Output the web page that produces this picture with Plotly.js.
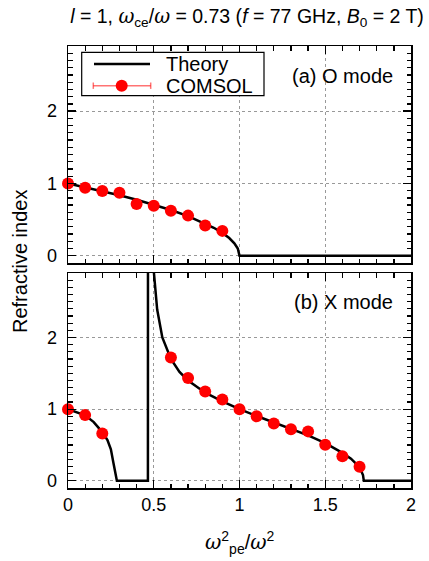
<!DOCTYPE html>
<html>
<head>
<meta charset="utf-8">
<script src="https://cdn.plot.ly/plotly-3.0.1.min.js"></script>
<style>html,body{margin:0;padding:0;background:#fff;}</style>
</head>
<body>
<div id="chart" style="width:429px;height:561px;"></div>
<script>
// ---- Data ----
// (a) O mode
const oTheoryX = [0, 0.1, 0.2, 0.3, 0.4, 0.5, 0.6, 0.7, 0.8, 0.85, 0.9, 0.94, 0.97, 0.99, 1.0, 2.0];
const oTheoryN = [1.0, 0.949, 0.894, 0.837, 0.775, 0.707, 0.632, 0.548, 0.447, 0.387, 0.316, 0.245, 0.173, 0.10, 0.0, 0.0];
const oComsolX = [0, 0.1, 0.2, 0.3, 0.4, 0.5, 0.6, 0.7, 0.8, 0.9];
const oComsolN = [1.0, 0.94, 0.894, 0.87, 0.715, 0.69, 0.623, 0.555, 0.42, 0.344];

// (b) X mode
const xTheoryX = [0, 0.05, 0.1, 0.15, 0.2, 0.23, 0.25, 0.265, 0.275, 0.28, 0.285, 0.466, 0.467,
                  0.48, 0.5, 0.52, 0.55, 0.6, 0.65, 0.7, 0.8, 0.9, 1.0, 1.1, 1.2, 1.3, 1.4, 1.5, 1.6, 1.65, 1.7, 1.72, 1.725, 2.0];
const xTheoryN = [1.0, 0.96, 0.915, 0.82, 0.68, 0.57, 0.44, 0.25, 0.10, 0.02, 0.0, 0.0, 10.0,
                  4.2, 2.93, 2.39, 2.0, 1.70, 1.52, 1.40, 1.23, 1.11, 1.0, 0.905, 0.815, 0.73, 0.635, 0.525, 0.39, 0.31, 0.19, 0.08, 0.0, 0.0];
const xComsolX = [0, 0.1, 0.2, 0.6, 0.7, 0.8, 0.9, 1.0, 1.1, 1.2, 1.3, 1.4, 1.5, 1.6, 1.7];
const xComsolN = [1.0, 0.917, 0.66, 1.72, 1.436, 1.245, 1.135, 1.0, 0.90, 0.80, 0.72, 0.69, 0.505, 0.343, 0.195];

const xTickVals = [0, 0.5, 1, 1.5, 2];
const xTickText = ['0', '0.5', '1', '1.5', '2'];
const yTickVals = [0, 1, 2];
const yTickText = ['0', '1', '2'];

const titleText = '<i>l</i> = 1, <span style="font-family:\'DejaVu Serif\'"><i>ω</i></span><sub>ce</sub>/<span style="font-family:\'DejaVu Serif\'"><i>ω</i></span> = 0.73 (<i>f</i> = 77 GHz, <i>B</i><sub>0</sub> = 2 T)';
const xTitleText = '<span style="font-family:\'DejaVu Serif\'"><i>ω</i></span><sup>2</sup><sub>pe</sub>/<span style="font-family:\'DejaVu Serif\'"><i>ω</i></span><sup>2</sup>';
const yTitleText = 'Refractive index';
const legendNames = ['Theory', 'COMSOL'];
const panelLabels = ['(a) O mode', '(b) X mode'];

// ---- Layout geometry ----
const W = 429, H = 561;
const M = {l: 68, r: 18, t: 46, b: 73};
const PW = W - M.l - M.r, PH = H - M.t - M.b;
const px = v => (v - M.l) / PW;          // pixel x -> paper x
const py = v => (H - M.b - v) / PH;      // pixel y -> paper y

const FONT = 'Liberation Sans, Arial, Helvetica, sans-serif';
const RED = '#ff0000';

const theoryLine = {color: '#000', width: 2.5};
const comsolMarker = {color: RED, size: 12, line: {width: 0}};

const traces = [
  {x: oTheoryX, y: oTheoryN, xaxis: 'x', yaxis: 'y', mode: 'lines', line: theoryLine, showlegend: false},
  {x: oComsolX, y: oComsolN, xaxis: 'x', yaxis: 'y', mode: 'markers', marker: comsolMarker, showlegend: false, cliponaxis: false},
  {x: xTheoryX, y: xTheoryN, xaxis: 'x2', yaxis: 'y2', mode: 'lines', line: theoryLine, showlegend: false},
  {x: xComsolX, y: xComsolN, xaxis: 'x2', yaxis: 'y2', mode: 'markers', marker: comsolMarker, showlegend: false, cliponaxis: false},
  // empty carriers so that the mirrored tick axes (top/right) get drawn
  {x: [], y: [], xaxis: 'x3', yaxis: 'y3', mode: 'markers', showlegend: false, hoverinfo: 'skip'},
  {x: [], y: [], xaxis: 'x4', yaxis: 'y4', mode: 'markers', showlegend: false, hoverinfo: 'skip'}
];

const tickBase = {ticks: 'inside', ticklen: 8, tickwidth: 1.3, tickcolor: '#000'};
const xMinor = {dtick: 0.1, tick0: 0, ticks: 'inside', ticklen: 4.5, tickwidth: 1.3, tickcolor: '#000', showgrid: false};
const yMinor = {dtick: 0.1, tick0: 0, ticks: 'inside', ticklen: 4.5, tickwidth: 1.3, tickcolor: '#000', showgrid: false};

function xAxis(anchor, showLabels) {
  return Object.assign({
    anchor: anchor, domain: [0, 1], range: [0, 2],
    tickmode: 'array', tickvals: xTickVals, ticktext: xTickText,
    showticklabels: showLabels,
    minor: xMinor,
    showgrid: true, gridcolor: '#999', griddash: 'dot', gridwidth: 1,
    showline: true, linecolor: '#000', linewidth: 1.5, mirror: true,
    zeroline: false,
    tickfont: {family: FONT, size: 18, color: '#000'}
  }, tickBase);
}
function yAxis(anchor, domain) {
  return Object.assign({
    anchor: anchor, domain: domain, range: [-0.1, 2.9],
    tickmode: 'array', tickvals: yTickVals, ticktext: yTickText,
    minor: yMinor,
    showgrid: true, gridcolor: '#999', griddash: 'dot', gridwidth: 1,
    showline: true, linecolor: '#000', linewidth: 1.5, mirror: true,
    zeroline: false, ticklabelstandoff: 6,
    tickfont: {family: FONT, size: 18, color: '#000'}
  }, tickBase);
}
// mirrored tick axes (top / right), no labels, no grid
function xMirror(overlay, anchor) {
  return Object.assign({
    overlaying: overlay, anchor: anchor, side: 'top', range: [0, 2],
    tickmode: 'array', tickvals: xTickVals, showticklabels: false,
    minor: xMinor, showgrid: false, showline: false, zeroline: false
  }, tickBase);
}
function yMirror(overlay, anchor) {
  return Object.assign({
    overlaying: overlay, anchor: anchor, side: 'right', range: [-0.1, 2.9],
    tickmode: 'array', tickvals: yTickVals, showticklabels: false,
    minor: yMinor, showgrid: false, showline: false, zeroline: false
  }, tickBase);
}

// Hand-drawn legend (box, line sample, marker with error bar)
const legY1 = 64, legY2 = 85.7;
const shapes = [
  {type: 'rect', xref: 'paper', yref: 'paper', x0: px(81.7), x1: px(264), y0: py(95.7), y1: py(52.3),
   line: {color: '#000', width: 1.2}, fillcolor: '#fff', layer: 'above'},
  {type: 'line', xref: 'paper', yref: 'paper', x0: px(94), x1: px(150), y0: py(legY1), y1: py(legY1),
   line: {color: '#000', width: 2.5}, layer: 'above'},
  {type: 'line', xref: 'paper', yref: 'paper', x0: px(93.3), x1: px(150.7), y0: py(legY2), y1: py(legY2),
   line: {color: 'rgba(255,0,0,0.55)', width: 1.5}, layer: 'above'},
  {type: 'line', xref: 'paper', yref: 'paper', x0: px(93.3), x1: px(93.3), y0: py(legY2 - 3.2), y1: py(legY2 + 3.2),
   line: {color: 'rgba(255,0,0,0.55)', width: 1.5}, layer: 'above'},
  {type: 'line', xref: 'paper', yref: 'paper', x0: px(150.7), x1: px(150.7), y0: py(legY2 - 3.2), y1: py(legY2 + 3.2),
   line: {color: 'rgba(255,0,0,0.55)', width: 1.5}, layer: 'above'},
  {type: 'circle', xref: 'paper', yref: 'paper', x0: px(121.7 - 6), x1: px(121.7 + 6), y0: py(legY2 + 6), y1: py(legY2 - 6),
   line: {width: 0}, fillcolor: RED, layer: 'above'}
];

const annFont = {family: FONT, size: 20, color: '#000'};
const annotations = [
  {xref: 'paper', yref: 'paper', x: px(164), y: py(legY1), xanchor: 'left', yanchor: 'middle', text: legendNames[0], showarrow: false, font: annFont},
  {xref: 'paper', yref: 'paper', x: px(164), y: py(legY2), xanchor: 'left', yanchor: 'middle', text: legendNames[1], showarrow: false, font: annFont},
  {xref: 'paper', yref: 'paper', x: px(290), y: py(75.7), xanchor: 'left', yanchor: 'middle', text: panelLabels[0], showarrow: false, font: annFont},
  {xref: 'paper', yref: 'paper', x: px(291.5), y: py(301.7), xanchor: 'left', yanchor: 'middle', text: panelLabels[1], showarrow: false, font: annFont},
  {xref: 'paper', yref: 'paper', x: px(20), y: py(262), xanchor: 'center', yanchor: 'middle', textangle: -90, text: yTitleText, showarrow: false, font: annFont},
  {xref: 'paper', yref: 'paper', x: px(240), y: py(542), xanchor: 'center', yanchor: 'middle', text: xTitleText, showarrow: false, font: annFont}
];

const layout = {
  width: W, height: H,
  margin: M,
  paper_bgcolor: '#fff', plot_bgcolor: '#fff',
  showlegend: false,
  title: {text: titleText, x: px(247), xref: 'paper', xanchor: 'center', y: 1 - 16 / H, yanchor: 'middle',
          font: {family: FONT, size: 19.5, color: '#000'}},
  xaxis: Object.assign(xAxis('y', false), {matches: 'x2'}),
  yaxis: yAxis('x', [py(263), 1]),
  xaxis2: xAxis('y2', true),
  yaxis2: yAxis('x2', [0, py(273)]),
  xaxis3: xMirror('x', 'y'),
  yaxis3: yMirror('y', 'x'),
  xaxis4: xMirror('x2', 'y2'),
  yaxis4: yMirror('y2', 'x2'),
  shapes: shapes,
  annotations: annotations
};

Plotly.newPlot('chart', traces, layout, {staticPlot: true, displayModeBar: false});
</script>
</body>
</html>
